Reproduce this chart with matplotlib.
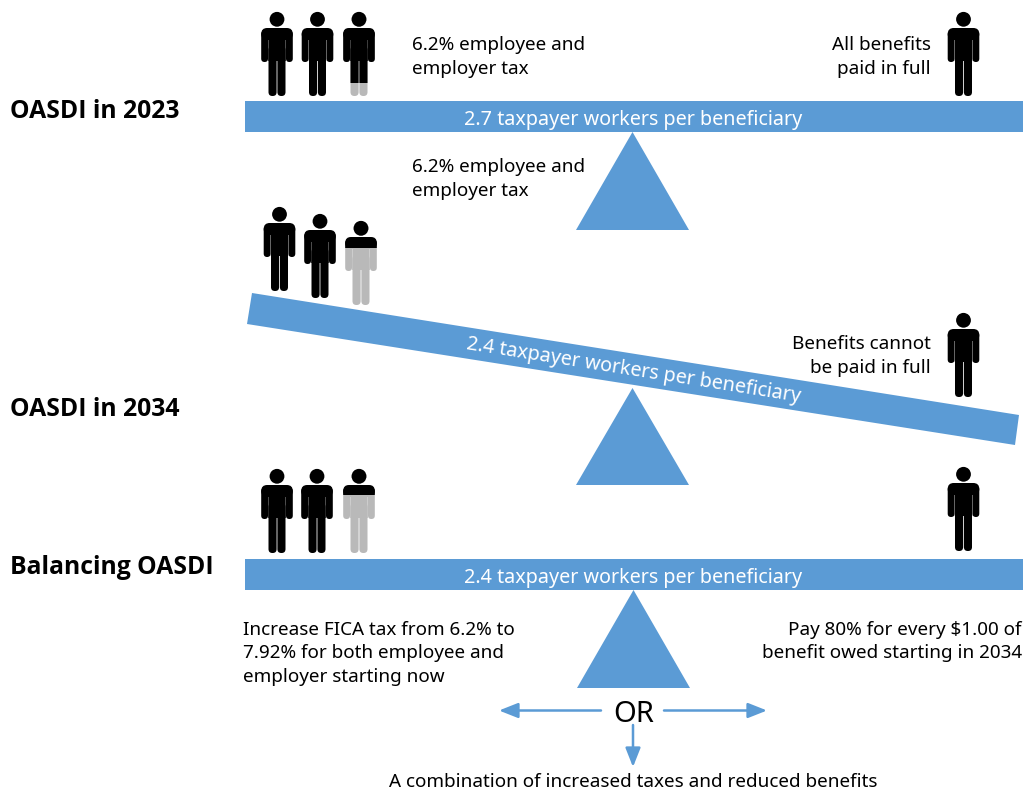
import matplotlib
matplotlib.use("Agg")
import matplotlib.pyplot as plt
from matplotlib.patches import Polygon, Circle, FancyBboxPatch, Rectangle, FancyArrowPatch

plt.rcParams['font.family'] = ['Noto Sans', 'DejaVu Sans']

BLUE = '#5b9bd5'
GRAY = '#b9b9b9'
FS = 13.6
FS_BAR = 14.25

# ---- content ----
section_titles = ['OASDI in 2023', 'OASDI in 2034', 'Balancing OASDI']
title_y = [112, 409, 568]
bar_labels = ['2.7 taxpayer workers per beneficiary',
              '2.4 taxpayer workers per beneficiary',
              '2.4 taxpayer workers per beneficiary']
third_worker_black_share = [0.85, 0.32, 0.31]

row1_worker_x = [277, 317.5, 359]
row1_worker_feet = [96, 96, 96]
row2_worker_x = [279.5, 320, 361]
row2_worker_feet = [291, 298, 305]
row3_worker_x = [277, 317, 359]
row3_worker_feet = [553, 553, 553]
beneficiary_x = [963.5, 963.5, 963.5]
beneficiary_feet = [96, 397, 551]

flat_bar_top = [101, 559]
flat_bar_h = 31
flat_bar_x = (245, 1023)
tilted_bar = [(252, 293), (1019, 415), (1015, 445), (247, 324)]
fulcrum_apex = [(632.5, 132), (632.5, 388), (633.5, 590)]
fulcrum_base_y = [230, 485, 688]
fulcrum_half = 56.5

left_texts = [(412, 44.5, '6.2% employee and'), (412, 68.5, 'employer tax'),
              (412, 167, '6.2% employee and'), (412, 191, 'employer tax'),
              (243, 630, 'Increase FICA tax from 6.2% to'),
              (243, 653, '7.92% for both employee and'),
              (243, 677, 'employer starting now')]
right_texts = [(931, 44.5, 'All benefits'), (931, 68.5, 'paid in full'),
               (931, 344, 'Benefits cannot'), (931, 368, 'be paid in full'),
               (1022, 630, 'Pay 80% for every $1.00 of'),
               (1022, 653, 'benefit owed starting in 2034')]

fig = plt.figure(figsize=(10.26, 7.92), dpi=100)
ax = fig.add_axes([0, 0, 1, 1])
ax.set_xlim(0, 1026)
ax.set_ylim(792, 0)
ax.axis('off')


def person(cx, feet, black_share=1.0):
    """Pictogram of a standing person, black from the head down to black_share of its height."""
    h = 84.0
    top = feet - h
    split = top + h * black_share
    colours = [(GRAY, None), ('black', split)] if black_share < 1 else [('black', None)]
    for colour, lim in colours:
        parts = [Circle((cx, feet - 76.7), 7.4)]
        def rr(x0, y0, x1, y1, r):
            parts.append(FancyBboxPatch((x0 + r, y0 + r), x1 - x0 - 2 * r, y1 - y0 - 2 * r,
                                        boxstyle=f'round,pad={r},rounding_size={r}'))
        rr(cx - 15.8, feet - 65, cx - 9.0, feet - 34, 3.4)       # left arm
        rr(cx + 9.0, feet - 65, cx + 15.8, feet - 34, 3.4)       # right arm
        rr(cx - 15.8, feet - 68, cx + 15.8, feet - 56, 6.0)      # shoulders
        parts.append(Rectangle((cx - 8.7, feet - 62), 17.4, 27))  # torso
        rr(cx - 8.5, feet - 50, cx - 0.4, feet, 3.9)             # left leg
        rr(cx + 0.4, feet - 50, cx + 8.5, feet, 3.9)             # right leg
        for p in parts:
            p.set(facecolor=colour, edgecolor='none', snap=False)
            ax.add_patch(p)
            if lim is not None:
                p.set_clip_path(Rectangle((cx - 20, top - 2), 40, lim - top + 2, transform=ax.transData))


for k, (xs, feet) in enumerate([(row1_worker_x, row1_worker_feet),
                                (row2_worker_x, row2_worker_feet),
                                (row3_worker_x, row3_worker_feet)]):
    person(xs[0], feet[0])
    person(xs[1], feet[1])
    person(xs[2], feet[2], third_worker_black_share[k])
    person(beneficiary_x[k], beneficiary_feet[k])

# beams
for top in flat_bar_top:
    ax.add_patch(Rectangle((flat_bar_x[0], top), flat_bar_x[1] - flat_bar_x[0], flat_bar_h,
                           facecolor=BLUE, edgecolor='none'))
ax.add_patch(Polygon(tilted_bar, closed=True, facecolor=BLUE, edgecolor='none'))

# fulcrums
for (ax_x, ax_y), by in zip(fulcrum_apex, fulcrum_base_y):
    ax.add_patch(Polygon([(ax_x, ax_y), (ax_x + fulcrum_half, by), (ax_x - fulcrum_half, by)],
                         closed=True, facecolor=BLUE, edgecolor='none'))

# beam labels
ax.text(633.5, 119.5, bar_labels[0], color='white', fontsize=FS_BAR, ha='center', va='center')
ax.text(633.5, 371, bar_labels[1], color='white', fontsize=FS_BAR, ha='center', va='center',
        rotation=-9.0, rotation_mode='anchor')
ax.text(633.5, 577.5, bar_labels[2], color='white', fontsize=FS_BAR, ha='center', va='center')

# section titles
for t, y in zip(section_titles, title_y):
    ax.text(10, y, t, fontsize=17.8, fontweight='bold', family=['Open Sans', 'DejaVu Sans'],
            color='black', ha='left', va='center')

# notes
for x, y, t in left_texts:
    ax.text(x, y, t, fontsize=FS, color='black', ha='left', va='center')
for x, y, t in right_texts:
    ax.text(x, y, t, fontsize=FS, color='black', ha='right', va='center')

ax.text(633.5, 714, 'OR', fontsize=21, color='black', ha='center', va='center')
ax.text(633.5, 782, 'A combination of increased taxes and reduced benefits',
        fontsize=FS, color='black', ha='center', va='center')

# arrows
for start, end in [((601, 710.5), (499, 710.5)), ((664, 710.5), (767, 710.5)), ((633, 725), (633, 767))]:
    ax.add_patch(FancyArrowPatch(start, end, arrowstyle='-|>,head_length=4.8,head_width=1.9',
                                 mutation_scale=2.4, color=BLUE, lw=1.8,
                                 shrinkA=0, shrinkB=0))

fig.savefig('out.png', dpi=100, facecolor='white')
